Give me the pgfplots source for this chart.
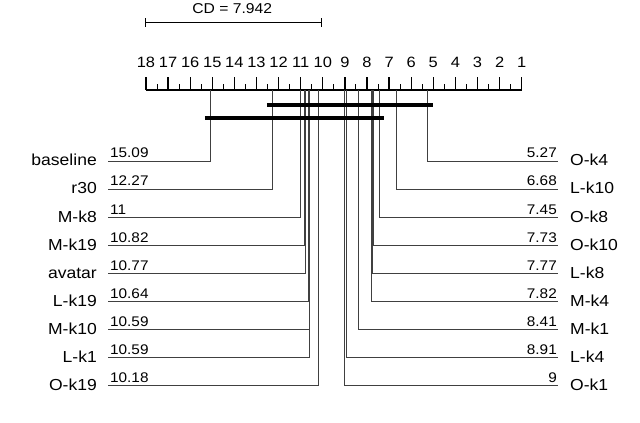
\documentclass[border=0pt]{standalone}
\usepackage{pgfplots}
\pgfplotsset{compat=1.18}
\usepackage{fontspec}
\setmainfont{Liberation Sans}
% the reference text is set a little wide
\newfontfamily\widesans[FakeStretch=1.1]{Liberation Sans}

% rank -> pixel: x = 146 + (18 - r)*22.1 ; y is in pixels from the top
\pgfplotsset{
  rankline/.style={draw=black!75, line width=0.8pt},
  clique/.style={black, line width=3.2pt},
}
\tikzset{
  lname/.style={anchor=base east, inner sep=0pt, font=\widesans\fontsize{16}{18}\selectfont},
  rname/.style={anchor=base west, inner sep=0pt, font=\widesans\fontsize{16}{18}\selectfont},
  lnum/.style={anchor=base west, inner sep=0pt, font=\widesans\fontsize{14}{16}\selectfont},
  rnum/.style={anchor=base east, inner sep=0pt, font=\widesans\fontsize{14}{16}\selectfont},
  tick/.style={anchor=base, inner sep=0pt, font=\widesans\fontsize{15}{17}\selectfont},
}

\begin{document}
\begin{tikzpicture}
\begin{axis}[
  scale only axis, width=640bp, height=423bp,
  xmin=-4.353, xmax=24.606, x dir=reverse,
  ymin=0, ymax=423, y dir=reverse,
  hide axis, clip=false,
]
% scale
\addplot[black, line width=1.6pt] coordinates {(18,90) (1,90)};
\addplot[black, line width=1.3pt, quiver={u=0,v=-13}] coordinates {
  (1,90)(2,90)(3,90)(4,90)(5,90)(6,90)(7,90)(8,90)(9,90)
  (10,90)(11,90)(12,90)(13,90)(14,90)(15,90)(16,90)(17,90)(18,90)};
\addplot[black, line width=1pt, quiver={u=0,v=-6}] coordinates {
  (1.5,90)(2.5,90)(3.5,90)(4.5,90)(5.5,90)(6.5,90)(7.5,90)(8.5,90)
  (9.5,90)(10.5,90)(11.5,90)(12.5,90)(13.5,90)(14.5,90)(15.5,90)(16.5,90)(17.5,90)};
\node[tick] at (axis cs:1,68) {1};
\node[tick] at (axis cs:2,68) {2};
\node[tick] at (axis cs:3,68) {3};
\node[tick] at (axis cs:4,68) {4};
\node[tick] at (axis cs:5,68) {5};
\node[tick] at (axis cs:6,68) {6};
\node[tick] at (axis cs:7,68) {7};
\node[tick] at (axis cs:8,68) {8};
\node[tick] at (axis cs:9,68) {9};
\node[tick] at (axis cs:10,68) {10};
\node[tick] at (axis cs:11,68) {11};
\node[tick] at (axis cs:12,68) {12};
\node[tick] at (axis cs:13,68) {13};
\node[tick] at (axis cs:14,68) {14};
\node[tick] at (axis cs:15,68) {15};
\node[tick] at (axis cs:16,68) {16};
\node[tick] at (axis cs:17,68) {17};
\node[tick] at (axis cs:18,68) {18};

% critical difference
\addplot[black, line width=1pt] coordinates {(18,23) (10.058,23)};
\addplot[black, line width=1pt] coordinates {(18,18.5) (18,27.5)};
\addplot[black, line width=1pt] coordinates {(10.058,18.5) (10.058,27.5)};
\node[tick, font=\widesans\fontsize{14.3}{16}\selectfont] at (axis cs:14.1,14) {CD = 7.942};

% left side (worse ranks)
\addplot[rankline] coordinates {(15.09,90) (15.09,161) (19.72,161)};
\addplot[rankline] coordinates {(12.27,90) (12.27,189) (19.72,189)};
\addplot[rankline] coordinates {(11,90) (11,217) (19.72,217)};
\addplot[rankline] coordinates {(10.82,90) (10.82,245) (19.72,245)};
\addplot[rankline] coordinates {(10.77,90) (10.77,273) (19.72,273)};
\addplot[rankline] coordinates {(10.64,90) (10.64,301) (19.72,301)};
\addplot[rankline] coordinates {(10.59,90) (10.59,329) (19.72,329)};
\addplot[rankline] coordinates {(10.59,90) (10.59,357) (19.72,357)};
\addplot[rankline] coordinates {(10.18,90) (10.18,385) (19.72,385)};

% right side (better ranks)
\addplot[rankline] coordinates {(5.27,90) (5.27,161) (-0.643,161)};
\addplot[rankline] coordinates {(6.68,90) (6.68,189) (-0.643,189)};
\addplot[rankline] coordinates {(7.45,90) (7.45,217) (-0.643,217)};
\addplot[rankline] coordinates {(7.73,90) (7.73,245) (-0.643,245)};
\addplot[rankline] coordinates {(7.77,90) (7.77,273) (-0.643,273)};
\addplot[rankline] coordinates {(7.82,90) (7.82,301) (-0.643,301)};
\addplot[rankline] coordinates {(8.41,90) (8.41,329) (-0.643,329)};
\addplot[rankline] coordinates {(8.91,90) (8.91,357) (-0.643,357)};
\addplot[rankline] coordinates {(9,90) (9,385) (-0.643,385)};

% cliques
\addplot[clique] coordinates {(12.525,105) (5.014,105)};
\addplot[clique] coordinates {(15.33,118) (7.23,118)};

% labels, left
\node[lname] at (axis cs:20.217,166) {baseline};
\node[lname] at (axis cs:20.217,194) {r30};
\node[lname] at (axis cs:20.217,222) {M-k8};
\node[lname] at (axis cs:20.217,250) {M-k19};
\node[lname] at (axis cs:20.217,278) {avatar};
\node[lname] at (axis cs:20.217,306) {L-k19};
\node[lname] at (axis cs:20.217,334) {M-k10};
\node[lname] at (axis cs:20.217,362) {L-k1};
\node[lname] at (axis cs:20.217,390) {O-k19};
\node[lnum] at (axis cs:19.63,158) {15.09};
\node[lnum] at (axis cs:19.63,186) {12.27};
\node[lnum] at (axis cs:19.63,214) {11};
\node[lnum] at (axis cs:19.63,242) {10.82};
\node[lnum] at (axis cs:19.63,270) {10.77};
\node[lnum] at (axis cs:19.63,298) {10.64};
\node[lnum] at (axis cs:19.63,326) {10.59};
\node[lnum] at (axis cs:19.63,354) {10.59};
\node[lnum] at (axis cs:19.63,382) {10.18};

% labels, right
\node[rname] at (axis cs:-1.186,166) {O-k4};
\node[rname] at (axis cs:-1.186,194) {L-k10};
\node[rname] at (axis cs:-1.186,222) {O-k8};
\node[rname] at (axis cs:-1.186,250) {O-k10};
\node[rname] at (axis cs:-1.186,278) {L-k8};
\node[rname] at (axis cs:-1.186,306) {M-k4};
\node[rname] at (axis cs:-1.186,334) {M-k1};
\node[rname] at (axis cs:-1.186,362) {L-k4};
\node[rname] at (axis cs:-1.186,390) {O-k1};
\node[rnum] at (axis cs:-0.597,158) {5.27};
\node[rnum] at (axis cs:-0.597,186) {6.68};
\node[rnum] at (axis cs:-0.597,214) {7.45};
\node[rnum] at (axis cs:-0.597,242) {7.73};
\node[rnum] at (axis cs:-0.597,270) {7.77};
\node[rnum] at (axis cs:-0.597,298) {7.82};
\node[rnum] at (axis cs:-0.597,326) {8.41};
\node[rnum] at (axis cs:-0.597,354) {8.91};
\node[rnum] at (axis cs:-0.597,382) {9};
\end{axis}
\pgfresetboundingbox
\useasboundingbox (current axis.south west) rectangle (current axis.north east);
\end{tikzpicture}
\end{document}
